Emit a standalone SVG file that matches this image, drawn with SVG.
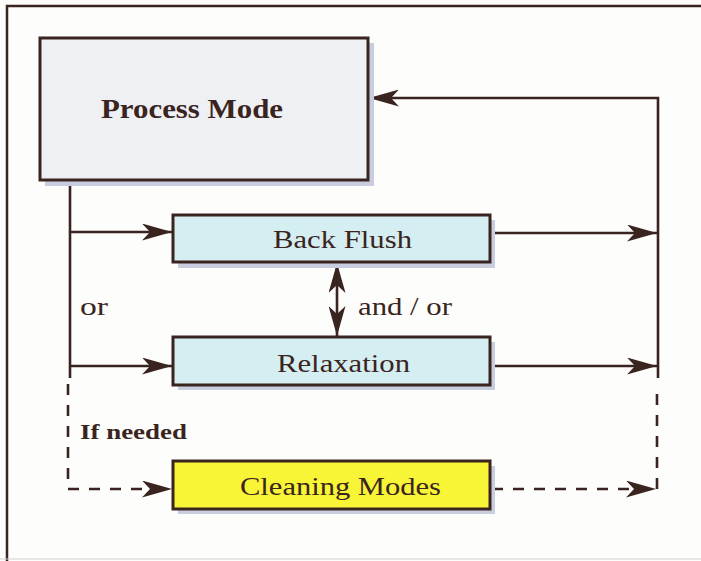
<svg xmlns="http://www.w3.org/2000/svg" width="701" height="561" viewBox="0 0 701 561">
<defs>
<marker id="ah" viewBox="0 0 30 17" refX="30" refY="8.5" markerWidth="30" markerHeight="17" markerUnits="userSpaceOnUse" orient="auto-start-reverse">
<path d="M0,0 L30,8.5 L0,17 L8,8.5 Z" fill="#3a2420"/>
</marker>
</defs>
<style>
.ln{stroke:#3a2420;stroke-width:2.6;fill:none}
.dash{stroke:#3a2420;stroke-width:2.6;fill:none;stroke-dasharray:11,10}
.box{stroke:#3a2420;stroke-width:3}
.sh{fill:#c9cde0}
.t{font-family:"Liberation Serif","Times New Roman",serif;fill:#3a2420}
</style>
<rect x="0" y="0" width="701" height="561" fill="#fdfdfb"/>
<path d="M7,561 L7,6 L701,6" stroke="#3a2420" stroke-width="2.5" fill="none"/>
<line x1="0" y1="559" x2="701" y2="559" stroke="#d0d0d0" stroke-width="1"/>
<g id="connectors">
<line class="ln" x1="70" y1="180" x2="70" y2="378"/>
<line class="ln" x1="70" y1="232" x2="172" y2="232" marker-end="url(#ah)"/>
<line class="ln" x1="70" y1="366" x2="172" y2="366" marker-end="url(#ah)"/>
<line class="ln" x1="490" y1="233" x2="657" y2="233" marker-end="url(#ah)"/>
<line class="ln" x1="490" y1="366" x2="657" y2="366" marker-end="url(#ah)"/>
<path class="ln" d="M658,378 L658,98 L369,98" marker-end="url(#ah)"/>
<line class="ln" x1="337" y1="263" x2="337" y2="336" marker-start="url(#ah)" marker-end="url(#ah)"/>
<path class="dash" d="M68,384 L68,489 L172,489" marker-end="url(#ah)"/>
<line class="dash" x1="492" y1="489" x2="656" y2="489" marker-end="url(#ah)"/>
<line class="dash" x1="657" y1="489" x2="657" y2="384"/>
</g>
<g id="process-mode">
<rect class="sh" x="45" y="43" width="329" height="143"/>
<rect class="box" x="40" y="38" width="328" height="142" fill="#eef0f4"/>
<text class="t" x="101" y="118" font-size="28" font-weight="bold" textLength="182" lengthAdjust="spacingAndGlyphs">Process Mode</text>
</g>
<g id="back-flush">
<rect class="sh" x="178" y="220" width="317" height="48"/>
<rect class="box" x="173" y="215" width="317" height="47" fill="#d4eef1"/>
<text class="t" x="273" y="248" font-size="25" textLength="139" lengthAdjust="spacingAndGlyphs">Back Flush</text>
</g>
<g id="relaxation">
<rect class="sh" x="178" y="342" width="317" height="48"/>
<rect class="box" x="173" y="337" width="317" height="48" fill="#d4eef1"/>
<text class="t" x="277" y="372" font-size="25" textLength="133" lengthAdjust="spacingAndGlyphs">Relaxation</text>
</g>
<g id="cleaning-modes">
<rect class="sh" x="178" y="466" width="317" height="48"/>
<rect class="box" x="173" y="461" width="317" height="48" fill="#f7f535"/>
<text class="t" x="240" y="495" font-size="25" textLength="201" lengthAdjust="spacingAndGlyphs">Cleaning Modes</text>
</g>
<g id="labels">
<text class="t" x="80" y="315" font-size="25" textLength="28" lengthAdjust="spacingAndGlyphs">or</text>
<text class="t" x="358" y="315" font-size="25" textLength="94" lengthAdjust="spacingAndGlyphs">and / or</text>
<text class="t" x="80" y="439" font-size="21" font-weight="bold" textLength="107" lengthAdjust="spacingAndGlyphs">If needed</text>
</g>
</svg>
